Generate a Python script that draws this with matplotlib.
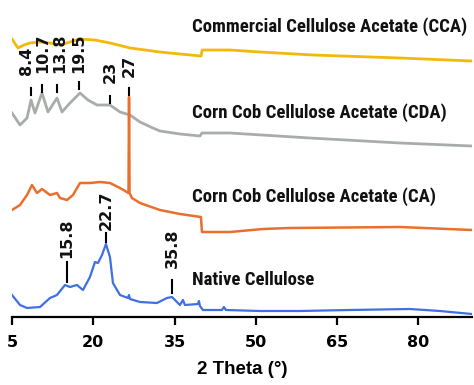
import matplotlib
matplotlib.use("Agg")
import matplotlib.pyplot as plt
from matplotlib import font_manager

# Data (2 Theta in graden, intensiteit in willekeurige eenheden)
theta_cca = [5.0, 6.1, 7.2, 8.3, 10.2, 12.0, 13.9, 15.7, 17.5, 20.3, 23.1, 26.8, 32.3, 36.0,
             39.9, 40.1, 45.2, 50.8, 60.5, 76.6, 89.9]
int_cca = [278, 269, 272, 274, 275, 274, 272, 275, 278, 277, 274, 269, 265, 263,
           261, 267, 267, 265, 262, 259, 256]

theta_cda = [5.0, 6.48, 7.77, 8.51, 9.24, 10.54, 11.64, 13.3, 14.23, 15.7, 17.55, 19.02, 20.68,
             23.08, 24.93, 26.77, 28.62, 31.01, 32.31, 36.0, 39.69, 40.06, 45.22, 59.98, 76.59, 89.87]
int_cda = [204, 192, 199, 217, 204, 224, 205, 219, 205, 214, 224, 217, 212,
           212, 205, 202, 195, 189, 186, 183, 181, 184, 184, 179, 174, 171]

theta_ca = [5.0, 6.48, 7.77, 8.69, 9.61, 10.54, 12.01, 13.3, 13.86, 15.15, 16.25, 17.55, 19.39,
            21.24, 23.08, 24.93, 26.5, 26.6, 26.7, 27.14, 28.62, 32.31, 36.0, 39.87, 40.06, 45.22,
            51.31, 56.29, 76.59, 89.87]
int_ca = [107, 112, 122, 132, 124, 128, 122, 124, 119, 117, 122, 134, 134,
          135, 134, 129, 124, 220, 124, 119, 114, 107, 103, 100, 85, 85,
          88, 89, 90, 87]

theta_nat = [5.0, 6.48, 7.77, 10.17, 12.01, 13.3, 14.78, 15.7, 16.99, 18.1, 19.39, 20.31, 20.87,
             21.61, 22.34, 23.08, 23.63, 24.93, 26.4, 26.59, 26.77, 28.62, 31.75, 33.6, 34.52,
             36.0, 36.55, 36.92, 39.32, 39.5, 39.69, 40.24, 43.75, 44.11, 44.48, 50.76, 58.14,
             67.36, 78.43, 83.97, 89.87]
int_nat = [22, 12, 9, 10, 19, 22, 32, 30, 32, 27, 40, 55, 54,
           62, 73, 60, 34, 22, 19, 22, 18, 15, 14, 19, 20,
           12, 17, 12, 13, 16, 11, 7, 7, 10, 7, 6, 6,
           7, 8, 6, 3]

names = ["Commercial Cellulose Acetate (CCA)", "Corn Cob Cellulose Acetate (CDA)",
         "Corn Cob Cellulose Acetate (CA)", "Native Cellulose"]
colors = ["#F2B80C", "#A9ADA9", "#E8702C", "#3F6FE3"]

# Piek labels (CDA boven, native onder)
peak_labels_cda = ["8.4", "10.7", "13.8", "19.5", "23", "27"]
peak_theta_cda = [8.5, 10.5, 13.3, 17.4, 23.1, 26.6]
peak_labels_nat = ["15.8", "22.7", "35.8"]
peak_theta_nat = [15.1, 22.4, 34.6]

xticks = [5, 20, 35, 50, 65, 80]


def pickFont(options):
    available = set(f.name for f in font_manager.fontManager.ttflist)
    for name in options:
        if name in available:
            return name
    return "DejaVu Sans"


narrowFont = pickFont(["Liberation Sans Narrow", "Arial Narrow", "Roboto Condensed",
                       "Archivo Narrow", "Liberation Sans"])
mainFont = pickFont(["Liberation Sans", "Arial"])
plt.rcParams["font.family"] = mainFont

fig = plt.figure(figsize=(4.74, 3.85), dpi=100)
ax = fig.add_axes([12 / 474, 68 / 385, 460 / 474, 317 / 385])

series = [(theta_cca, int_cca), (theta_cda, int_cda), (theta_ca, int_ca), (theta_nat, int_nat)]
widths = [2.0, 2.0, 1.8, 1.6]
for (tx, ty), c, w in zip(series, colors, widths):
    ax.plot(tx, ty, color=c, lw=w, solid_joinstyle="round")

# Namen rechts van de lijnen
for name, y in zip(names, [290, 204, 120, 37]):
    ax.text(38.2, y, name, family=narrowFont, fontweight="bold", fontsize=13.5,
            ha="left", va="center", color="#111111")

# Piekmarkeringen CDA
tick_bottom_cda = [222, 225, 225, 228, 214, 222]
label_bottom_cda = [242, 244, 244, 244, 234, 240]
label_shift = [-0.9, 0.1, 0.5, -0.1, 0.0, 0.0]
for lab, t, yb, lb, s in zip(peak_labels_cda, peak_theta_cda, tick_bottom_cda,
                             label_bottom_cda, label_shift):
    ax.plot([t, t], [yb, yb + 7], color="black", lw=1.5)
    ax.text(t + s, lb, lab, rotation=90, ha="center", va="bottom", family="DejaVu Sans",
            fontweight="bold", fontsize=11.5, color="#111111")

# Piekmarkeringen native cellulose
tick_span_nat = [(35, 55), (75, 84), (24, 37)]
label_bottom_nat = [59, 87, 49]
for lab, t, (y0, y1), lb in zip(peak_labels_nat, peak_theta_nat, tick_span_nat, label_bottom_nat):
    ax.plot([t, t], [y0, y1], color="black", lw=1.5)
    ax.text(t, lb, lab, rotation=90, ha="center", va="bottom", family="DejaVu Sans",
            fontweight="bold", fontsize=11.5, color="#111111")

ax.set_xlim(5, 89.9)
ax.set_ylim(0, 317)
ax.set_xticks(xticks)
ax.set_xticklabels([str(x) for x in xticks], family="DejaVu Sans", fontweight="bold", fontsize=11.5)
ax.set_yticks([])
for side in ["top", "right", "left"]:
    ax.spines[side].set_visible(False)
ax.spines["bottom"].set_linewidth(1.6)
ax.tick_params(axis="x", direction="out", length=6, width=1.6, pad=7)
ax.set_xlabel("2 Theta (°)", fontweight="bold", fontsize=13.5, labelpad=8)
ax.patch.set_alpha(0)

fig.savefig("out.png", dpi=100)
